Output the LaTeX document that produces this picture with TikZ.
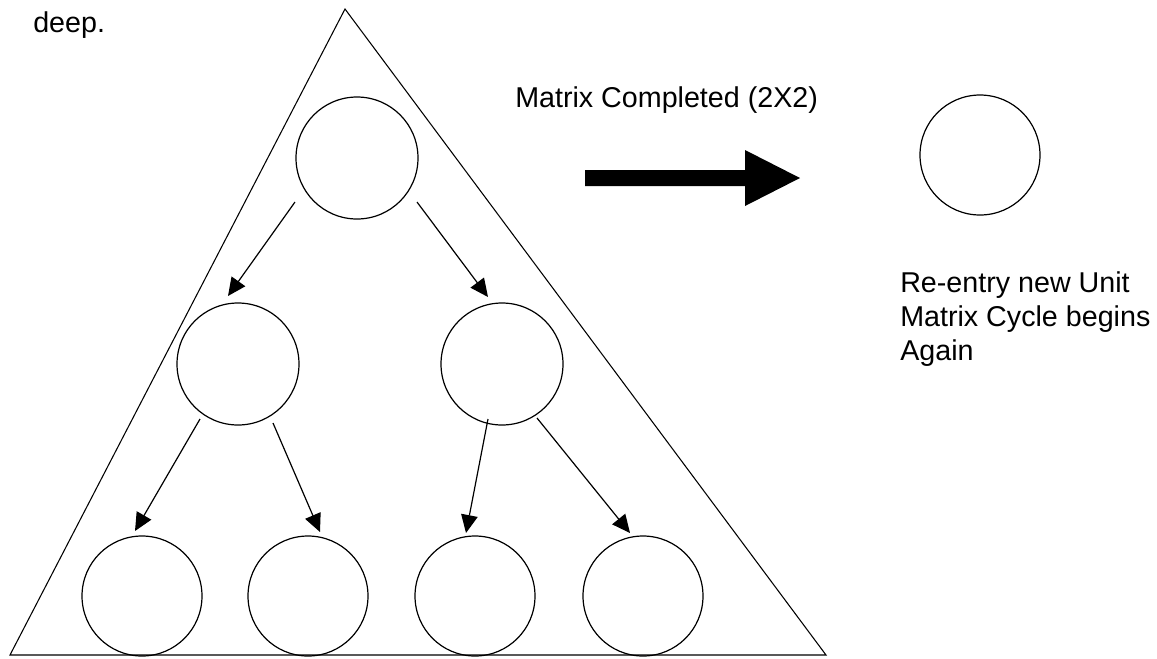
\documentclass[tikz,border=0pt]{standalone}
\usepackage{fontspec}
\setmainfont{Liberation Sans}
\usetikzlibrary{arrows.meta}
\begin{document}
\begin{tikzpicture}[x=0.75pt,y=-0.75pt,
  unit/.style={circle,draw,line width=0.9pt,minimum size=91.5pt,inner sep=0pt},
  bunit/.style={circle,draw,line width=0.9pt,minimum size=90pt,inner sep=0pt},
  arr/.style={line width=0.9pt,-{Triangle[length=13.5pt,width=12.5pt]}},
  lbl/.style={anchor=base west,inner sep=0pt,font=\fontsize{21.5pt}{25.5pt}\selectfont}]
\useasboundingbox (0,0) rectangle (1157,658);
% triangle
\draw[line width=0.8pt] (345,9) -- (10,655) -- (826,655) -- cycle;
% nodes
\node[unit] (top) at (357,158) {};
\node[unit] (midL) at (238,364) {};
\node[unit] (midR) at (502,364) {};
\node[bunit] (b1) at (142,596) {};
\node[bunit] (b2) at (308,596) {};
\node[bunit] (b3) at (475,596) {};
\node[bunit] (b4) at (643,596) {};
\node[bunit] (re) at (980,155) {};
% arrows
\draw[arr] ([shift={(-62,44)}]top.center) -- ([shift={(-10,-68)}]midL.center);
\draw[arr] ([shift={(60,44)}]top.center) -- ([shift={(-14,-67)}]midR.center);
\draw[arr] ([shift={(-38,55)}]midL.center) -- ([shift={(-7,-65)}]b1.center);
\draw[arr] ([shift={(35,59)}]midL.center) -- ([shift={(12,-64)}]b2.center);
\draw[arr] ([shift={(-14,55)}]midR.center) -- ([shift={(-9,-63)}]b3.center);
\draw[arr] ([shift={(35,54)}]midR.center) -- ([shift={(-13,-63)}]b4.center);
% big arrow
\fill (585,170) -- (745,170) -- (745,150) -- (800,178) -- (745,206) -- (745,186) -- (585,186) -- cycle;
% texts
\node[lbl] (deep) at (33,32) {deep.};
\node[lbl] (done) at (515,107) {Matrix Completed (2X2)};
\node[lbl,align=left] (again) at (900,360) {Re-entry new Unit\\Matrix Cycle begins\\Again};
\end{tikzpicture}
\end{document}
